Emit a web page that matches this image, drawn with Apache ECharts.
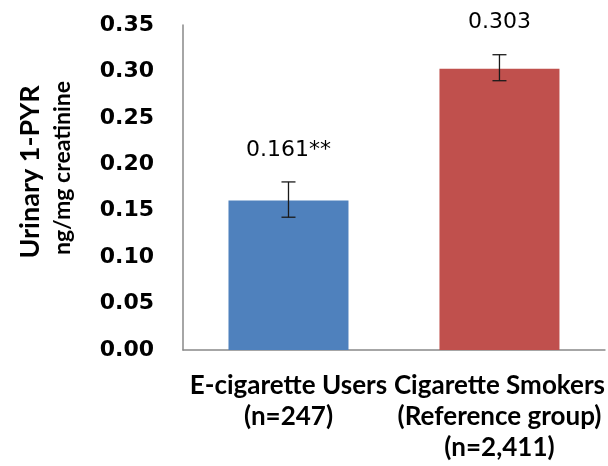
<!DOCTYPE html>
<html>
<head>
<meta charset="utf-8">
<script src="https://cdn.jsdelivr.net/npm/echarts@6/dist/echarts.min.js"></script>
<style>
  html, body { margin: 0; padding: 0; background: #fff; }
  #chart { width: 608px; height: 466px; }
</style>
</head>
<body>
<div id="chart"></div>
<script>
const categories = ['E-cigarette Users\n(n=247)', 'Cigarette Smokers\n(Reference group)\n(n=2,411)']
const means = [0.161, 0.303]
const errLow = [0.143, 0.290]
const errHigh = [0.181, 0.318]
const valueLabels = ['0.161**', '0.303']
const barColors = ['#4F81BD', '#C0504D']

const myChart = echarts.init(document.getElementById('chart'))

const errData = categories.map((c, i) => [i, errLow[i], errHigh[i]])

myChart.setOption({
  animation: false,
  grid: { left: 183, right: 3, top: 25, bottom: 116 },
  xAxis: {
    type: 'category',
    data: categories,
    axisLine: { lineStyle: { color: '#898989', width: 1.5 } },
    axisTick: { show: false },
    axisLabel: {
      interval: 0,
      margin: 20,
      color: '#000',
      fontFamily: 'Lato',
      fontWeight: 'bold',
      fontSize: 26,
      lineHeight: 31
    }
  },
  yAxis: {
    type: 'value',
    min: 0,
    max: 0.35,
    interval: 0.05,
    splitLine: { show: false },
    axisLine: { show: true, lineStyle: { color: '#898989', width: 1.5 } },
    axisTick: { show: false },
    axisLabel: {
      margin: 29,
      color: '#000',
      fontFamily: 'DejaVu Sans',
      fontWeight: 'bold',
      fontSize: 22,
      formatter: v => v.toFixed(2)
    }
  },
  graphic: [
    {
      type: 'text', x: 30, y: 172, rotation: Math.PI / 2,
      style: { text: 'Urinary 1-PYR', align: 'center', verticalAlign: 'middle',
        fontFamily: 'Lato', fontWeight: 'bold', fontSize: 27, fill: '#000' }
    },
    {
      type: 'text', x: 63, y: 168, rotation: Math.PI / 2,
      style: { text: 'ng/mg creatinine', align: 'center', verticalAlign: 'middle',
        fontFamily: 'Lato', fontWeight: 'bold', fontSize: 23, fill: '#000' }
    }
  ],
  series: [
    {
      type: 'bar',
      barWidth: 120,
      data: means.map((v, i) => ({ value: v, itemStyle: { color: barColors[i] } }))
    },
    {
      type: 'custom',
      z: 5,
      clip: false,
      encode: { x: 0, y: [1, 2] },
      data: errData,
      renderItem: (params, api) => {
        const x = api.value(0)
        const lo = api.coord([x, api.value(1)])
        const hi = api.coord([x, api.value(2)])
        const cap = 7
        const style = { stroke: '#1a1a1a', lineWidth: 1.3 }
        return {
          type: 'group',
          children: [
            { type: 'line', shape: { x1: hi[0], y1: hi[1], x2: lo[0], y2: lo[1] }, style },
            { type: 'line', shape: { x1: hi[0] - cap, y1: hi[1], x2: hi[0] + cap, y2: hi[1] }, style },
            { type: 'line', shape: { x1: lo[0] - cap, y1: lo[1], x2: lo[0] + cap, y2: lo[1] }, style },
            {
              type: 'text',
              style: {
                text: valueLabels[params.dataIndex],
                x: hi[0], y: hi[1] - 32,
                align: 'center', verticalAlign: 'middle',
                fontFamily: 'DejaVu Sans', fontSize: 22, fill: '#000'
              }
            }
          ]
        }
      }
    }
  ]
})
</script>
</body>
</html>
